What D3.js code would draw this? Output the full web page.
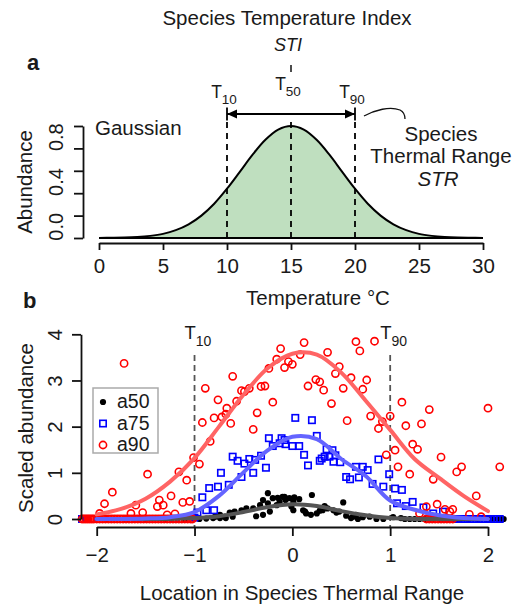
<!DOCTYPE html>
<html>
<head>
<meta charset="utf-8">
<script src="https://cdn.jsdelivr.net/npm/d3@7"></script>
<style>
body { margin: 0; background: white; }
text { font-family: "Liberation Sans", Arial, sans-serif; fill: #1a1a1a; }
</style>
</head>
<body>
<div id="chart"></div>
<script>
// ---- panel a : gaussian response curve (read at every degree) ----
var temps = [0,1,2,3,4,5,6,7,8,9,10,11,12,13,14,15,16,17,18,19,20,21,22,23,24,25,26,27,28,29,30];
var abundance = [0.001,0.002,0.004,0.009,0.019,0.037,0.070,0.122,0.200,0.306,0.440,0.591,0.744,0.877,0.968,1.000,
                 0.968,0.877,0.744,0.591,0.440,0.306,0.200,0.122,0.070,0.037,0.019,0.009,0.004,0.002,0.001];
var thresholds = [10, 15, 20];
var thresholdSubs = ["10", "50", "90"];
var xTicksA = [0, 5, 10, 15, 20, 25, 30];
var yTicksA = [0, 0.2, 0.4, 0.6, 0.8, 1.0];
var yLabelPosA = [0.1, 0.5, 0.9];
var yLabelsA = ["0.0", "0.4", "0.8"];

// ---- panel b : scaled abundance vs location in thermal range ----
var a50 = [[-0.95,0.00],[-0.88,0.01],[-0.81,0.02],[-0.79,0.05],[-0.74,0.09],[-0.74,0.02],[-0.69,0.05],[-0.68,0.02],
  [-0.64,0.14],[-0.61,0.05],[-0.59,0.16],[-0.52,0.19],[-0.47,0.23],[-0.40,0.23],[-0.37,0.06],[-0.33,0.30],[-0.30,0.41],
  [-0.30,0.09],[-0.25,0.56],[-0.25,0.34],[-0.23,0.16],[-0.20,0.45],[-0.16,0.30],[-0.15,0.46],[-0.13,0.37],[-0.10,0.48],
  [-0.08,0.48],[-0.07,0.41],[-0.03,0.45],[-0.01,0.27],[0.01,0.37],[0.01,0.19],[0.02,0.47],[0.07,0.43],[0.11,0.19],
  [0.13,0.16],[0.14,0.12],[0.19,0.09],[0.20,0.52],[0.25,0.12],[0.28,0.18],[0.31,0.19],[0.33,0.28],[0.36,0.23],
  [0.42,0.19],[0.45,0.14],[0.48,0.16],[0.52,0.36],[0.55,0.07],[0.60,0.02],[0.62,0.05],[0.65,0.09],[0.67,0.00],
  [0.72,0.04],[0.79,0.05],[0.86,0.00],[0.93,0.00],[1.03,0.04],[1.11,0.02]];
var a50ZeroX = [-2.1,-1.9,-1.7,-1.5,-1.3,-1.1,1.15,1.2,1.25,1.3,1.35,1.4,1.45,1.5,1.55,1.6,1.7,1.8,1.9,2.0,2.05,2.1,2.14,2.16];

var a75 = [[-1.00,0.03],[-0.97,0.14],[-0.92,0.47],[-0.88,0.19],[-0.85,0.67],[-0.80,0.19],[-0.76,0.70],[-0.73,1.00],
  [-0.65,0.74],[-0.61,1.35],[-0.56,1.26],[-0.52,0.91],[-0.49,1.20],[-0.44,1.30],[-0.40,1.00],[-0.38,1.28],[-0.32,1.37],
  [-0.27,1.11],[-0.24,1.75],[-0.20,1.58],[-0.13,1.64],[-0.11,1.75],[-0.08,1.71],[-0.07,1.62],[0.00,1.58],[0.03,2.19],
  [0.07,1.58],[0.12,1.39],[0.16,1.16],[0.20,2.14],[0.25,1.80],[0.28,1.26],[0.30,1.31],[0.33,1.35],[0.35,1.51],
  [0.38,1.35],[0.41,1.49],[0.42,1.24],[0.44,1.38],[0.49,1.23],[0.55,0.91],[0.59,0.86],[0.65,1.13],[0.68,0.90],
  [0.72,1.13],[0.77,1.06],[0.82,0.76],[0.88,1.29],[0.93,0.70],[0.99,0.97],[1.05,0.66],[1.07,0.34],[1.12,0.63],
  [1.16,0.28],[1.23,0.37],[1.34,0.25],[1.44,0.12],[1.54,0.16]];
var a75ZeroX = [-2.15,-2.1,-2.05,-1.6,-1.2,1.58,1.61,1.64,1.67,1.7,1.73,1.76,1.79,1.82,1.85,1.88,1.91,1.94,1.97,2.0,2.03,2.06,2.09,2.12];

var a90 = [[-1.97,0.12],[-1.92,0.33],[-1.84,0.58],[-1.72,3.37],[-1.65,0.12],[-1.60,0.30],[-1.53,0.14],[-1.48,0.97],
  [-1.38,0.27],[-1.36,0.41],[-1.32,0.30],[-1.28,0.09],[-1.24,0.50],[-1.20,0.11],[-1.16,1.02],[-1.12,0.36],[-1.08,0.84],
  [-1.05,0.38],[-1.01,1.33],[-0.95,1.19],[-0.92,2.09],[-0.89,2.83],[-0.84,1.68],[-0.80,2.19],[-0.76,2.58],[-0.72,2.21],
  [-0.68,2.27],[-0.67,2.40],[-0.63,2.07],[-0.61,3.09],[-0.57,2.55],[-0.52,2.78],[-0.49,2.76],[-0.44,2.83],[-0.40,1.94],
  [-0.36,2.30],[-0.32,2.87],[-0.28,2.88],[-0.24,3.26],[-0.20,2.53],[-0.16,3.46],[-0.12,3.69],[-0.08,3.28],[-0.04,3.41],
  [0.00,3.35],[0.08,3.56],[0.12,3.82],[0.16,2.88],[0.24,3.02],[0.28,2.97],[0.32,2.79],[0.36,3.61],[0.40,2.50],
  [0.44,3.15],[0.48,3.30],[0.52,2.83],[0.56,2.13],[0.60,3.06],[0.65,3.84],[0.69,3.64],[0.72,2.81],[0.76,3.01],
  [0.80,2.23],[0.84,3.85],[0.88,1.96],[0.92,2.11],[0.96,1.39],[1.00,2.23],[1.05,1.49],[1.08,1.13],[1.12,2.53],
  [1.16,2.02],[1.20,0.97],[1.23,1.62],[1.28,1.51],[1.30,0.12],[1.32,2.06],[1.37,0.27],[1.40,2.37],[1.44,0.86],
  [1.48,0.32],[1.52,1.34],[1.56,0.21],[1.61,0.16],[1.64,0.21],[1.68,1.02],[1.73,1.13],[1.81,0.10],[1.88,0.50],
  [1.93,0.05],[2.00,2.40],[2.12,1.13]];
var a90ZeroX = [-2.15,-2.13,-2.11,-2.09,-2.07,-2.05,-2.03,-2.0,-1.97,-1.94,-1.91,-1.88,-1.85,-1.82,-1.79,-1.76,-1.73,
  -1.7,-1.67,-1.64,-1.61,-1.58,-1.55,-1.52,-1.49,-1.46,-1.43,-1.4,-1.37,-1.34,-1.31,-1.28,-1.25,-1.22,-1.19,-1.16,
  -1.13,-1.1,-1.07,-1.04,-1.02,1.37,1.4,1.43,1.46,1.49,1.52,1.55,1.58,1.61,1.64];

// fitted curves, read every 0.25
var fitX  = [-2,-1.75,-1.5,-1.25,-1,-0.75,-0.5,-0.25,0,0.25,0.5,0.75,1,1.25,1.5,1.75,2];
var fit50 = [0,0,0,0,0.02,0.06,0.15,0.26,0.32,0.28,0.17,0.08,0.02,0,0,0,0];
var fit75 = [0,0,0.01,0.04,0.15,0.50,1.01,1.49,1.78,1.73,1.30,0.93,0.40,0.20,0.08,0.02,0];
var fit90 = [0.10,0.22,0.44,0.81,1.32,2.00,2.69,3.27,3.58,3.56,3.17,2.56,1.93,1.30,0.89,0.50,0.17];

var seriesNames = ["a50", "a75", "a90"];
var xTicksB = [-2, -1, 0, 1, 2];
var yTicksB = [0, 1, 2, 3, 4];
var tLines = [-1, 1];
var tSubsB = ["10", "90"];

var svg = d3.select("#chart").append("svg")
    .attr("width", 518)
    .attr("height", 615)
    .style("background-color", "white");

function styleAxis(g) {
    g.attr("font-family", null).attr("font-size", null);
    g.selectAll("path, line").attr("stroke", "#111").attr("stroke-width", 1.8);
    g.selectAll("text").attr("fill", "#1a1a1a").style("font-size", "20.5px");
}

/* ========== panel a ========== */
var xA = d3.scaleLinear().domain([0, 30]).range([99, 483]),
    yA = d3.scaleLinear().domain([0, 1]).range([238, 126]);

var pts = temps.map(function(t, i) { return [t, abundance[i]]; });

svg.append("path")
    .datum(pts)
    .attr("d", d3.area().x(function(d) { return xA(d[0]); }).y0(yA(0)).y1(function(d) { return yA(d[1]); })
        .curve(d3.curveCatmullRom))
    .attr("fill", "#bfdfbf");
svg.append("path")
    .datum(pts)
    .attr("d", d3.line().x(function(d) { return xA(d[0]); }).y(function(d) { return yA(d[1]); })
        .curve(d3.curveCatmullRom))
    .attr("fill", "none").attr("stroke", "#000").attr("stroke-width", 2);
svg.append("line")
    .attr("x1", xA(0)).attr("x2", xA(30)).attr("y1", yA(0)).attr("y2", yA(0))
    .attr("stroke", "#000").attr("stroke-width", 2);

// T10 / T50 / T90 dashed lines
svg.selectAll(".tdash").data(thresholds).join("line")
    .attr("class", "tdash")
    .attr("x1", function(d) { return xA(d); }).attr("x2", function(d) { return xA(d); })
    .attr("y1", 122).attr("y2", yA(0))
    .attr("stroke", "#000").attr("stroke-width", 1.8).attr("stroke-dasharray", "6,5");

var tlab = svg.selectAll(".tlab").data(thresholds).join("text")
    .attr("class", "tlab")
    .attr("x", function(d) { return xA(d) - 3; })
    .attr("y", function(d, i) { return i == 1 ? 90 : 98; })
    .attr("text-anchor", "middle")
    .style("font-size", "17.5px")
    .text("T");
tlab.append("tspan").attr("dy", 6).style("font-size", "13.5px")
    .text(function(d, i) { return thresholdSubs[i]; });

// range arrow T10 -> T90
var ay = 114;
svg.append("line").attr("x1", xA(10)).attr("x2", xA(20)).attr("y1", ay).attr("y2", ay)
    .attr("stroke", "#000").attr("stroke-width", 1.8);
[10, 20].forEach(function(v, i) {
    var x0 = xA(v), s = i == 0 ? 1 : -1;
    svg.append("line").attr("x1", x0).attr("x2", x0).attr("y1", ay - 6.5).attr("y2", ay + 6.5)
        .attr("stroke", "#000").attr("stroke-width", 1.8);
    svg.append("path")
        .attr("d", "M" + x0 + "," + ay + "L" + (x0 + s * 10) + "," + (ay - 4.5) + "L" + (x0 + s * 10) + "," + (ay + 4.5) + "Z")
        .attr("fill", "#000");
});

// STI tick + titles
svg.append("line").attr("x1", xA(15)).attr("x2", xA(15)).attr("y1", 65).attr("y2", 72)
    .attr("stroke", "#111").attr("stroke-width", 1.5);
svg.append("text").attr("x", 287).attr("y", 25).attr("text-anchor", "middle")
    .style("font-size", "20.5px").text("Species Temperature Index");
svg.append("text").attr("x", 288).attr("y", 51).attr("text-anchor", "middle")
    .style("font-size", "18px").style("font-style", "italic").text("STI");

// curly connector to STR text
svg.append("path")
    .attr("d", "M364,116 C375,110 390,106 400,110 C404,112 405,115 405,119")
    .attr("fill", "none").attr("stroke", "#111").attr("stroke-width", 1.3);
svg.append("text").attr("x", 441).attr("y", 140.5).attr("text-anchor", "middle")
    .style("font-size", "20.5px").text("Species");
svg.append("text").attr("x", 441).attr("y", 162.5).attr("text-anchor", "middle")
    .style("font-size", "20.5px").text("Thermal Range");
svg.append("text").attr("x", 438).attr("y", 186).attr("text-anchor", "middle")
    .style("font-size", "20.5px").style("font-style", "italic").text("STR");

svg.append("text").attr("x", 95).attr("y", 134.5).style("font-size", "20.5px").text("Gaussian");

// axes a
var gxA = svg.append("g").attr("transform", "translate(0,243)")
    .call(d3.axisBottom(xA).tickValues(xTicksA).tickSize(7).tickPadding(8).tickSizeOuter(0));
styleAxis(gxA);

var gyA = svg.append("g").attr("transform", "translate(83,0)")
    .call(d3.axisLeft(yA).tickValues(yTicksA).tickSize(9).tickSizeOuter(0).tickFormat(""));
styleAxis(gyA);

svg.append("g").selectAll("text").data(yLabelsA).join("text")
    .attr("transform", function(d, i) { return "translate(63," + yA(yLabelPosA[i]) + ") rotate(-90)"; })
    .attr("text-anchor", "middle")
    .style("font-size", "20px")
    .text(function(d) { return d; });

svg.append("text").attr("transform", "translate(32,182) rotate(-90)").attr("text-anchor", "middle")
    .style("font-size", "20.5px").text("Abundance");
svg.append("text").attr("x", 318).attr("y", 305).attr("text-anchor", "middle")
    .style("font-size", "20.5px").text("Temperature \u00b0C");

svg.append("text").attr("x", 27).attr("y", 70).style("font-size", "22px").style("font-weight", "bold").text("a");
svg.append("text").attr("x", 23).attr("y", 308).style("font-size", "22px").style("font-weight", "bold").text("b");

/* ========== panel b ========== */
var xB = d3.scaleLinear().domain([-2, 2]).range([96.7, 488]),
    yB = d3.scaleLinear().domain([0, 4]).range([519, 334.3]);

// T10 / T90 dashed guides
svg.selectAll(".tguide").data(tLines).join("line")
    .attr("class", "tguide")
    .attr("x1", function(d) { return xB(d); }).attr("x2", function(d) { return xB(d); })
    .attr("y1", 355).attr("y2", 527)
    .attr("stroke", "#555").attr("stroke-width", 1.8).attr("stroke-dasharray", "6,4");

tLines.forEach(function(v, i) {
    var t = svg.append("text").attr("x", xB(v) - 10).attr("y", 339)
        .style("font-size", "18.5px").attr("fill", "#222").text("T");
    t.append("tspan").attr("dy", 7).style("font-size", "14px").text(tSubsB[i]);
});

var d50 = a50.concat(a50ZeroX.map(function(x) { return [x, 0]; })),
    d75 = a75ZeroX.map(function(x) { return [x, 0]; }).concat(a75),
    d90 = a90ZeroX.map(function(x) { return [x, 0]; }).concat(a90);

svg.append("g").selectAll("circle").data(d50).join("circle")
    .attr("cx", function(d) { return xB(d[0]); })
    .attr("cy", function(d) { return yB(d[1]); })
    .attr("r", 3.1).attr("fill", "#000");

svg.append("g").selectAll("rect").data(d75).join("rect")
    .attr("x", function(d) { return xB(d[0]) - 3.2; })
    .attr("y", function(d) { return yB(d[1]) - 3.2; })
    .attr("width", 6.4).attr("height", 6.4)
    .attr("fill", "none").attr("stroke", "#0000ff").attr("stroke-width", 1.6);

svg.append("g").selectAll("circle").data(d90).join("circle")
    .attr("cx", function(d) { return xB(d[0]); })
    .attr("cy", function(d) { return yB(d[1]); })
    .attr("r", 3.6).attr("fill", "none").attr("stroke", "#ff0000").attr("stroke-width", 1.6);

// fitted lines
var fitLine = d3.line()
    .x(function(d) { return xB(d[0]); })
    .y(function(d) { return yB(d[1]); })
    .curve(d3.curveCatmullRom);
[[fit90, "#ff6464"], [fit50, "#555555"], [fit75, "#6464ff"]].forEach(function(f) {
    svg.append("path")
        .datum(fitX.map(function(x, i) { return [x, f[0][i]]; }))
        .attr("d", fitLine)
        .attr("fill", "none").attr("stroke", f[1]).attr("stroke-width", 4)
        .attr("stroke-linecap", "round");
});

// axes b
var gxB = svg.append("g").attr("transform", "translate(0,527)")
    .call(d3.axisBottom(xB).tickValues(xTicksB).tickSize(9).tickPadding(11).tickSizeOuter(0)
        .tickFormat(d3.format("d")));
styleAxis(gxB);

var gyB = svg.append("g").attr("transform", "translate(81,0)")
    .call(d3.axisLeft(yB).tickValues(yTicksB).tickSize(9).tickSizeOuter(0).tickFormat(d3.format("d")));
styleAxis(gyB);
gyB.selectAll("text")
    .attr("x", 0).attr("dy", 0)
    .attr("transform", "translate(-19,0) rotate(-90)")
    .attr("text-anchor", "middle");

svg.append("text").attr("transform", "translate(33,428) rotate(-90)").attr("text-anchor", "middle")
    .style("font-size", "20.5px").text("Scaled abundance");
svg.append("text").attr("x", 302).attr("y", 600).attr("text-anchor", "middle")
    .style("font-size", "20.5px").text("Location in Species Thermal Range");

// legend
var leg = svg.append("g").attr("transform", "translate(93,388)");
leg.append("rect").attr("width", 65).attr("height", 65)
    .attr("fill", "white").attr("stroke", "#aaa").attr("stroke-width", 1.5);
var legItems = leg.selectAll(".li").data(seriesNames).join("g")
    .attr("class", "li")
    .attr("transform", function(d, i) { return "translate(10," + (14 + i * 21.5) + ")"; });
legItems.each(function(d, i) {
    var g = d3.select(this);
    if (i == 0) g.append("circle").attr("r", 3.1).attr("fill", "#000");
    if (i == 1) g.append("rect").attr("x", -3.2).attr("y", -3.2).attr("width", 6.4).attr("height", 6.4)
        .attr("fill", "none").attr("stroke", "#0000ff").attr("stroke-width", 1.6);
    if (i == 2) g.append("circle").attr("r", 3.6).attr("fill", "none").attr("stroke", "#ff0000").attr("stroke-width", 1.6);
    g.append("text").attr("x", 14).attr("y", 6).style("font-size", "19.5px").text(d);
});
</script>
</body>
</html>
